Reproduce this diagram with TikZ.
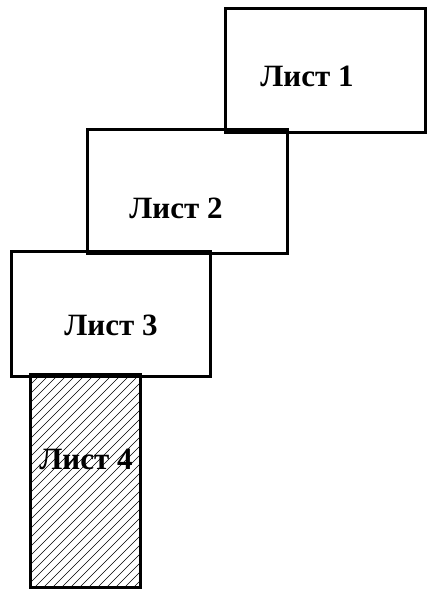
\documentclass[tikz,border=0pt]{standalone}
\usepackage{fontspec}
\setmainfont{Liberation Serif}
\begin{document}
\begin{tikzpicture}[x=1pt,y=-1pt,
  sheet/.style={draw=black,line width=3pt,fill=none},
  lbl/.style={font=\fontsize{31}{34}\selectfont\bfseries,inner sep=0pt}]
\useasboundingbox (0,0) rectangle (446,590);
\fill[white] (0,0) rectangle (446,590);
% hatching of sheet 4
\begin{scope}
\clip (30,374) rectangle (140,587);
\foreach \i in {0,9,...,360} {
  \draw[line width=0.6pt] (30+\i-220,587) -- (30+\i,587-220);
}
\end{scope}
\node[sheet,minimum width=200pt,minimum height=124pt] (s1) at (325,70) {};
\node[sheet,minimum width=200pt,minimum height=124pt] (s2) at (187,191) {};
\node[sheet,minimum width=199pt,minimum height=125pt] (s3) at (110.5,313.5) {};
\node[sheet,minimum width=110pt,minimum height=213pt] (s4) at (85,480.5) {};
\node[lbl] (t1) at (307,76) {Лист 1};
\node[lbl] (t2) at (176,208) {Лист 2};
\node[lbl] (t3) at (111,325) {Лист 3};
\node[lbl] (t4) at (86,459) {Лист 4};
\end{tikzpicture}
\end{document}
